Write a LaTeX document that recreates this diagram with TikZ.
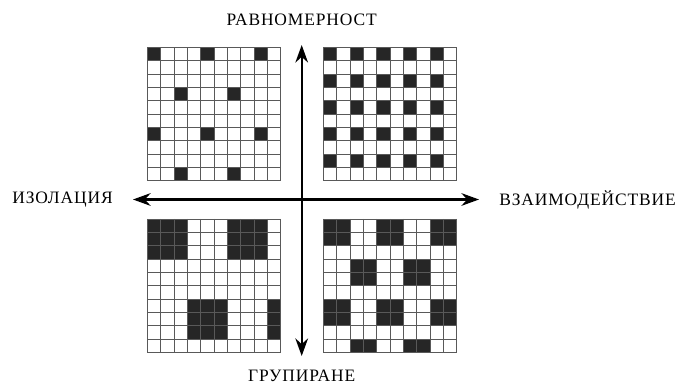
\documentclass[tikz,border=0pt]{standalone}
\usepackage{fontspec}
\setmainfont{Liberation Serif}
\usetikzlibrary{arrows.meta}
\usetikzlibrary{positioning}

\begin{document}
\begin{tikzpicture}[x=0.025cm, y=-0.025cm]
	\tikzset{cell/.style={fill=black!85, draw=none}};
	\tikzset{gridline/.style={draw=black!65, line width=0.55pt}};
	\tikzset{axis/.style={line width=1.5pt, black, {Stealth[length=12.5pt,width=9pt]}-{Stealth[length=12.5pt,width=9pt]}}};
	\tikzset{axislabel/.style={inner sep=0pt, text=black, font=\fontsize{12.4}{14}\selectfont\addfontfeatures{LetterSpace=5}}};
	\useasboundingbox (0,0) rectangle (689,385);

	% Place grids
	% uniform (top left)
	\begin{scope}[shift={(147.3,47.3)}, scale=13.33]
	\foreach \r/\c in {0/0,0/4,0/8,3/2,3/6,6/0,6/4,6/8,9/2,9/6}
		\fill[cell] (\c,\r) rectangle ++(1,1);
	\foreach \i in {0,...,10} {
		\draw[gridline] (\i,0) -- (\i,10);
		\draw[gridline] (0,\i) -- (10,\i);
	}
	\end{scope}
	% uniform, dense (top right)
	\begin{scope}[shift={(323.3,47.3)}, scale=13.33]
	\foreach \r in {0,2,4,6,8}
		\foreach \c in {0,2,4,6,8}
			\fill[cell] (\c,\r) rectangle ++(1,1);
	\foreach \i in {0,...,10} {
		\draw[gridline] (\i,0) -- (\i,10);
		\draw[gridline] (0,\i) -- (10,\i);
	}
	\end{scope}
	% clustered (bottom left)
	\begin{scope}[shift={(147.3,219)}, scale=13.33]
	\foreach \r/\c in {0/0,0/6,6/3}
		\fill[cell] (\c,\r) rectangle ++(3,3);
	\fill[cell] (9,6) rectangle ++(1,3);
	\foreach \i in {0,...,10} {
		\draw[gridline] (\i,0) -- (\i,10);
		\draw[gridline] (0,\i) -- (10,\i);
	}
	\end{scope}
	% clustered, interacting (bottom right)
	\begin{scope}[shift={(323.3,219)}, scale=13.33]
	\foreach \r/\c in {0/0,0/4,0/8,3/2,3/6,6/0,6/4,6/8}
		\fill[cell] (\c,\r) rectangle ++(2,2);
	\foreach \c in {2,6}
		\fill[cell] (\c,9) rectangle ++(2,1);
	\foreach \i in {0,...,10} {
		\draw[gridline] (\i,0) -- (\i,10);
		\draw[gridline] (0,\i) -- (10,\i);
	}
	\end{scope}

	% Place axes
	\coordinate (north) at (301.7,45);
	\coordinate (south) at (301.7,356);
	\coordinate (west) at (133,199.5);
	\coordinate (east) at (479,199.5);
	\draw [axis] (south) -- (north);
	\draw [axis] (west) -- (east);

	% Place labels
	\node [axislabel, above=0.47cm of north] (uniform) {РАВНОМЕРНОСТ};
	\node [axislabel, below=0.35cm of south] (cluster) {ГРУПИРАНЕ};
	\node [axislabel, left=0.5cm of west] (isolate) {ИЗОЛАЦИЯ};
	\node [axislabel, right=0.5cm of east] (interact) {ВЗАИМОДЕЙСТВИЕ};

\end{tikzpicture}
\end{document}
